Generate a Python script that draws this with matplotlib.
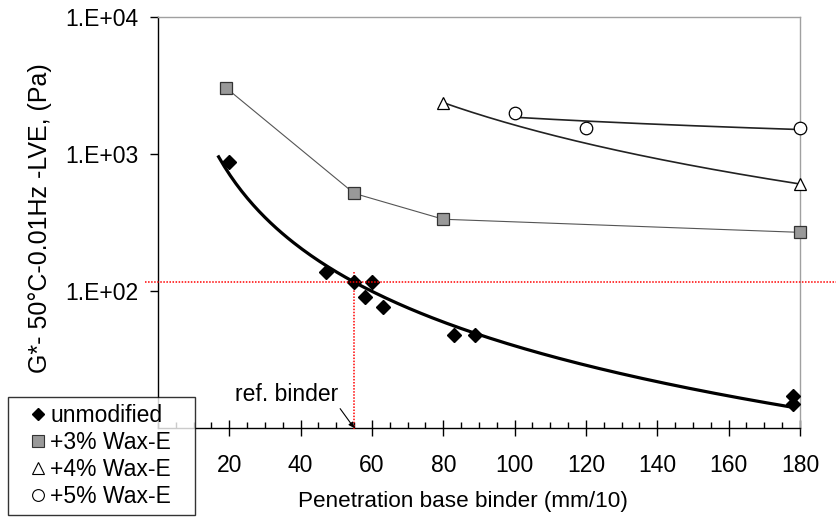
import numpy as np
import matplotlib
matplotlib.use("Agg")
import matplotlib.pyplot as plt
from matplotlib.lines import Line2D
from matplotlib.ticker import FixedLocator, MultipleLocator, FuncFormatter, NullLocator
import matplotlib.transforms as mtransforms

plt.rcParams['font.family'] = ['Liberation Sans', 'DejaVu Sans']

# ---- data ----
unmod_x = [20, 47, 55, 58, 60, 63, 83, 89, 178, 178]
unmod_y = [880, 137, 116, 90, 117, 77, 48, 48, 17, 15]
wax3_x = [19, 55, 80, 180]
wax3_y = [3050, 516, 334, 268]
wax4_x = [80, 180]
wax4_y = [2370, 604]
wax5_x = [100, 120, 180]
wax5_y = [2000, 1560, 1560]
ref_pen = 55
ref_g = 116
ref_top = 138
x_ticks = [20, 40, 60, 80, 100, 120, 140, 160, 180]
y_ticks = [1e2, 1e3, 1e4]
y_tick_labels = ["1.E+02", "1.E+03", "1.E+04"]
legend_labels = ["unmodified", "+3% Wax-E", "+4% Wax-E", "+5% Wax-E"]
xlabel = "Penetration base binder (mm/10)"
ylabel = "G*- 50°C-0.01Hz -LVE, (Pa)"


def power_fit(x, y):
    b, a = np.polyfit(np.log(x), np.log(y), 1)
    return lambda t: np.exp(a) * np.asarray(t) ** b


W, H = 837, 517
fig = plt.figure(figsize=(W / 100, H / 100), dpi=100)
L, R, T, B = 158, 800, 17, 428
ax = fig.add_axes([L / W, 1 - B / H, (R - L) / W, (B - T) / H])
ax.set_yscale('log')
ax.set_xlim(0, 180)
ax.set_ylim(10, 1e4)

# trend lines
f0 = power_fit(unmod_x, unmod_y)
t0 = np.linspace(17, 178, 200)
ax.plot(t0, f0(t0), color='black', lw=2.3, zorder=3)
f4 = power_fit(wax4_x, wax4_y)
t4 = np.linspace(80, 180, 200)
ax.plot(t4, f4(t4), color='#222222', lw=1.2, zorder=3)
f5 = power_fit(wax5_x, wax5_y)
t5 = np.linspace(100, 180, 200)
ax.plot(t5, f5(t5), color='#222222', lw=1.2, zorder=3)
ax.plot(wax3_x, wax3_y, color='#555555', lw=0.8, zorder=3)

# markers
ax.plot(unmod_x, unmod_y, 'D', color='black', ms=7.5, zorder=5, clip_on=False)
ax.plot(wax3_x, wax3_y, 's', mfc='#999999', mec='#333333', mew=0.9, ms=8, zorder=5, clip_on=False)
ax.plot(wax4_x, wax4_y, '^', mfc='white', mec='black', mew=0.9, ms=9, zorder=5, clip_on=False)
ax.plot(wax5_x, wax5_y, 'o', mfc='white', mec='black', mew=0.9, ms=9, zorder=5, clip_on=False)

# red reference lines
tr_h = mtransforms.blended_transform_factory(fig.transFigure, ax.transData)
fig.add_artist(Line2D([145 / W, 1.0], [ref_g, ref_g], transform=tr_h, color='red',
                      lw=1.1, ls=(0, (1, 1)), zorder=4))
ax.plot([ref_pen, ref_pen], [ref_top, 9.8], color='red', lw=1.1, ls=(0, (1, 1)),
        zorder=4, clip_on=False)

ax.annotate("ref. binder", xy=(ref_pen, 10), xytext=(50.5, 17.6), textcoords='data',
            ha='right', va='center', fontsize=16.5,
            arrowprops=dict(arrowstyle='-|>', color='black', lw=0.8, mutation_scale=8,
                            shrinkA=0, shrinkB=0, relpos=(1.0, 0.0)), zorder=6)

# spines
for s in ['top', 'right']:
    ax.spines[s].set_color('#a0a0a0')
    ax.spines[s].set_linewidth(1.0)
for s in ['left', 'bottom']:
    ax.spines[s].set_color('black')
    ax.spines[s].set_linewidth(1.0)

ax.xaxis.set_major_locator(FixedLocator(x_ticks))
ax.xaxis.set_minor_locator(MultipleLocator(5))
ax.yaxis.set_major_locator(FixedLocator(y_ticks))
ax.yaxis.set_major_formatter(FuncFormatter(lambda v, p: dict(zip(y_ticks, y_tick_labels)).get(v, "")))
ax.yaxis.set_minor_locator(NullLocator())
ax.tick_params(axis='x', which='major', direction='inout', length=11, width=1, labelsize=16.5, pad=13)
ax.tick_params(axis='x', which='minor', direction='in', length=4, width=1)
ax.tick_params(axis='y', which='major', direction='out', length=6, width=1, labelsize=16.5, pad=8)

ax.set_xlabel(xlabel, fontsize=16.2)
ax.xaxis.set_label_coords((463 - L) / (R - L), (B - 502) / (B - T), transform=ax.transAxes)
ax.xaxis.label.set_va('center')
ax.set_ylabel(ylabel, fontsize=18)
ax.yaxis.set_label_coords((40 - L) / (R - L), (B - 218) / (B - T), transform=ax.transAxes)
ax.yaxis.label.set_va('center')

handles = [
    Line2D([], [], ls='none', marker='D', color='black', ms=6),
    Line2D([], [], ls='none', marker='s', mfc='#999999', mec='#333333', mew=0.8, ms=8),
    Line2D([], [], ls='none', marker='^', mfc='white', mec='black', mew=0.8, ms=8.5),
    Line2D([], [], ls='none', marker='o', mfc='white', mec='black', mew=0.8, ms=8.5),
]
leg = fig.legend(handles, legend_labels, loc='lower left',
                 bbox_to_anchor=(8 / W, 2 / H, (195 - 8) / W, 0.1), mode='expand',
                 frameon=True, fancybox=False, fontsize=16.5,
                 handlelength=2.0, handletextpad=-0.45, borderpad=0.3, labelspacing=0.18,
                 borderaxespad=0)
leg.get_frame().set_edgecolor('black')
leg.get_frame().set_linewidth(1.0)
leg.set_zorder(10)

fig.savefig('out.png', dpi=100)
